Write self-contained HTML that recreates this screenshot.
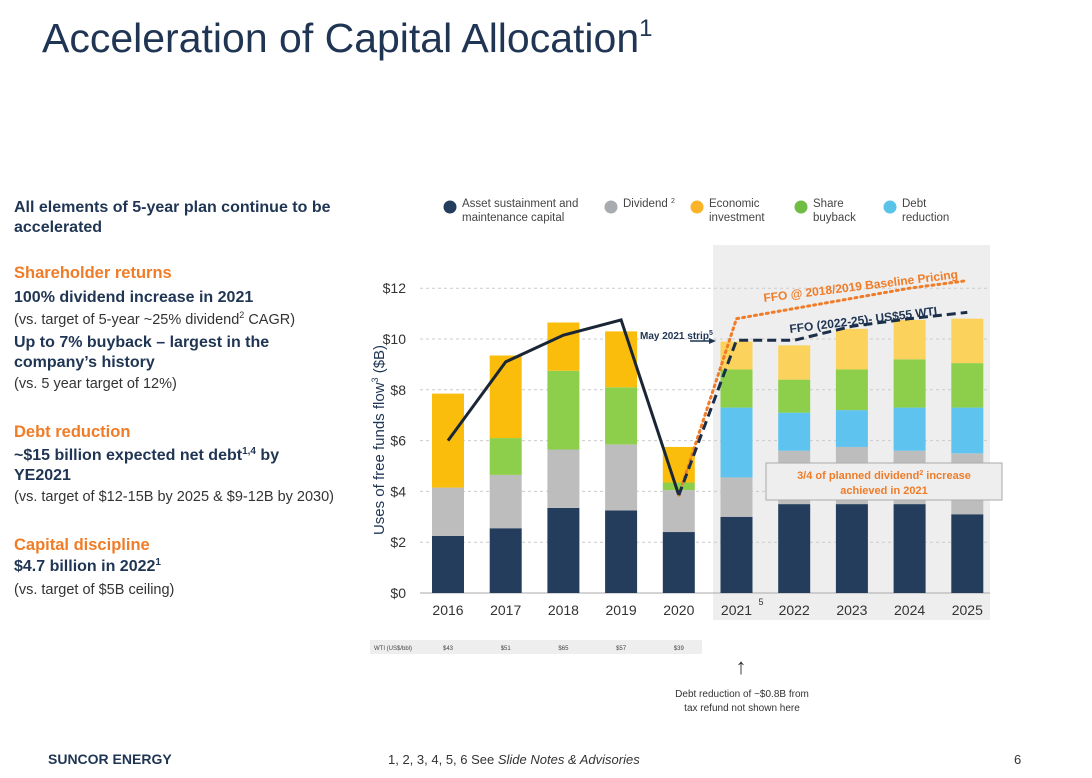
<!DOCTYPE html>
<html><head><meta charset="utf-8"><style>
body{margin:0;width:1092px;height:778px;background:#fff;position:relative;font-family:"Liberation Sans",sans-serif;overflow:hidden}
.a{position:absolute;margin:0}
.h{color:#1f3553;font-weight:bold;font-size:16px;line-height:20px}
.o{color:#f07c28;font-weight:bold;font-size:16.5px}
.s{color:#333;font-size:14.5px}
sup{line-height:0;vertical-align:6px}
</style></head><body>
<h1 class="a" style="left:42px;top:14px;font-size:41px;font-weight:normal;color:#1f3553;line-height:48px">Acceleration of Capital Allocation<sup style="font-size:24px;vertical-align:16px">1</sup></h1>
<div class="a h" style="left:14px;top:198px;width:345px">All elements of 5-year plan continue to be accelerated</div>
<div class="a o" style="left:14px;top:264px">Shareholder returns</div>
<div class="a h" style="left:14px;top:288px">100% dividend increase in 2021</div>
<div class="a s" style="left:14px;top:312px">(vs. target of 5-year ~25% dividend<sup style="font-size:9px">2</sup> CAGR)</div>
<div class="a h" style="left:14px;top:333px;width:300px">Up to 7% buyback – largest in the company’s history</div>
<div class="a s" style="left:14px;top:376px">(vs. 5 year target of 12%)</div>
<div class="a o" style="left:14px;top:423px">Debt reduction</div>
<div class="a h" style="left:14px;top:446px;width:300px">~$15 billion expected net debt<sup style="font-size:10px">1,4</sup> by YE2021</div>
<div class="a s" style="left:14px;top:489px">(vs. target of $12-15B by 2025 &amp; $9-12B by 2030)</div>
<div class="a o" style="left:14px;top:536px">Capital discipline</div>
<div class="a h" style="left:14px;top:557px">$4.7 billion in 2022<sup style="font-size:10px">1</sup></div>
<div class="a s" style="left:14px;top:582px">(vs. target of $5B ceiling)</div>
<div class="a" style="left:48px;top:751px;font-size:14px;font-weight:bold;color:#1f3553">SUNCOR ENERGY</div>
<div class="a" style="left:388px;top:752px;font-size:13px;color:#333">1, 2, 3, 4, 5, 6 See <i>Slide Notes &amp; Advisories</i></div>
<div class="a" style="left:1014px;top:752px;font-size:13px;color:#333">6</div>
<svg class="a" style="left:0;top:0" width="1092" height="778" id="chart"></svg>
<script>
const years=["2016","2017","2018","2019","2020","2021","2022","2023","2024","2025"];
const assetTop=[2.25,2.55,3.35,3.25,2.4,3.0,3.5,3.5,3.5,3.1];
const dividendTop=[4.15,4.65,5.65,5.85,4.05,4.55,5.6,5.75,5.6,5.5];
const debtTop=[4.15,4.65,5.65,5.85,4.05,7.3,7.1,7.2,7.3,7.3];
const buybackTop=[4.15,6.1,8.75,8.1,4.35,8.8,8.4,8.8,9.2,9.05];
const econTop=[7.85,9.35,10.65,10.3,5.75,9.9,9.75,10.4,10.75,10.8];
const ffoActual=[6.0,9.1,10.15,10.75,3.85];
const ffoPlan=[3.85,9.95,9.95,10.5,10.8,11.05];
const ffoBaseline=[3.85,10.8,11.2,11.6,12.0,12.3];
const yTicks=[0,2,4,6,8,10,12];
const wti=["$43","$51","$65","$57","$39"];
const NS="http://www.w3.org/2000/svg",svg=document.getElementById('chart');
const X=i=>448+i*57.7, Y=v=>593-v*25.4;
function mk(t,a,p){const e=document.createElementNS(NS,t);for(const k in a)e.setAttribute(k,a[k]);(p||svg).appendChild(e);return e;}
let g=mk('rect',{x:713,y:245,width:277,height:375,fill:'#eeeeee'});

yTicks.forEach(v=>{
 let l=mk('line',{x1:420,x2:990,y1:Y(v),y2:Y(v),stroke:v?'#ccc':'#aaa','stroke-dasharray':v?'3 3':'',"stroke-width":1});
 
 let t=mk('text',{x:406,y:Y(v)+5,'text-anchor':'end','font-size':14,fill:'#333'});t.textContent='$'+v;
 
});
let yt=mk('text',{transform:'translate(384,440) rotate(-90)','text-anchor':'middle','font-size':15,fill:'#1f3553'});
yt.innerHTML='Uses of free funds flow<tspan font-size="9" dy="-6">3</tspan><tspan dy="6"> ($B)</tspan>';

const layers=[[null,assetTop,'#243d5c'],[assetTop,dividendTop,'#bdbdbd'],[dividendTop,debtTop,'#5fc3ef'],[debtTop,buybackTop,'#8dcf4b'],[buybackTop,econTop,'#fbbd0c']];
years.forEach((yr,i)=>{
 layers.forEach(([lo,hi,c])=>{
  const b=lo?lo[i]:0,t=hi[i];if(t-b<=0.001)return;
  let r=mk('rect',{x:X(i)-16,y:Y(t),width:32,height:Y(b)-Y(t),fill:i>=5&&c=='#fbbd0c'?'#fbd35c':c});
  
 });
 let t=mk('text',{x:X(i),y:615,'text-anchor':'middle','font-size':14,fill:'#333'});t.textContent=yr;
 
});
let s5=mk('text',{x:X(5)+22,y:605,'font-size':9,fill:'#333'});s5.textContent='5';

let p1=mk('polyline',{points:ffoActual.map((v,i)=>X(i)+','+Y(v)).join(' '),fill:'none',stroke:'#1a2535','stroke-width':3});

let p3=mk('polyline',{points:ffoBaseline.map((v,i)=>X(i+4)+','+Y(v)).join(' '),fill:'none',stroke:'#f07c28','stroke-width':3,'stroke-dasharray':'2 4','stroke-linecap':'round'});

let p2=mk('polyline',{points:ffoPlan.map((v,i)=>X(i+4)+','+Y(v)).join(' '),fill:'none',stroke:'#1a2e4a','stroke-width':3,'stroke-dasharray':'9 5'});

function txt(x,y,s,sz,c,name,w,rot){let t=mk('text',{x:x,y:y,'font-size':sz,fill:c,'font-weight':w||'normal',transform:rot||''});t.innerHTML=s;return t;}
txt(640,339,'May 2021 strip<tspan font-size="7" dy="-4">5</tspan>',10,'#1f3553','strip-label','bold');
mk('line',{x1:690,y1:341,x2:712,y2:341,stroke:'#1f3553','stroke-width':1.5});
mk('polygon',{points:'716,341 709,338 709,344',fill:'#1f3553'});
txt(764,302,'FFO @ 2018/2019 Baseline Pricing',12,'#f07c28','baseline-label','bold','rotate(-7 764 302)');
txt(790,333,'FFO (2022-25)- US$55 WTI',12,'#1f3553','plan-label','bold','rotate(-7 790 333)');
let ab=mk('rect',{x:766,y:463,width:236,height:37,fill:'#eeeeee',stroke:'#aaa'});

txt(884,479,'3/4 of planned dividend<tspan font-size="7" dy="-4">2</tspan><tspan dy="4"> increase</tspan>',11,'#f07c28','annotation-line1','bold').setAttribute('text-anchor','middle');
txt(884,494,'achieved in 2021',11,'#f07c28','annotation-line2','bold').setAttribute('text-anchor','middle');
const legNames=[['Asset sustainment and','maintenance capital','#243d5c',450],['Dividend <tspan font-size="7" dy="-4">2</tspan>','','#a8acb0',611],['Economic','investment','#fbb42a',697],['Share','buyback','#6fbd45',801],['Debt','reduction','#5ac4e8',890]];
legNames.forEach(([a,b,c,x])=>{let ci=mk('circle',{cx:x,cy:207,r:6.5,fill:c});
 txt(x+12,207,a,11.5,'#444','legend-entry');if(b)txt(x+12,221,b,11.5,'#444','legend-entry');});
let wr=mk('rect',{x:370,y:640,width:332,height:14,fill:'#eeeeee'});
txt(374,650,'WTI (US$/bbl)',6,'#444','wti-label');
wti.forEach((w,i)=>txt(X(i)-5,650,w,6,'#444','wti-value'));
txt(741,674,'↑',22,'#333','debt-arrow').setAttribute('text-anchor','middle');
txt(742,697,'Debt reduction of ~$0.8B from',10,'#333','debt-note-1').setAttribute('text-anchor','middle');
txt(742,711,'tax refund not shown here',10,'#333','debt-note-2').setAttribute('text-anchor','middle');
</script>
</body></html>
